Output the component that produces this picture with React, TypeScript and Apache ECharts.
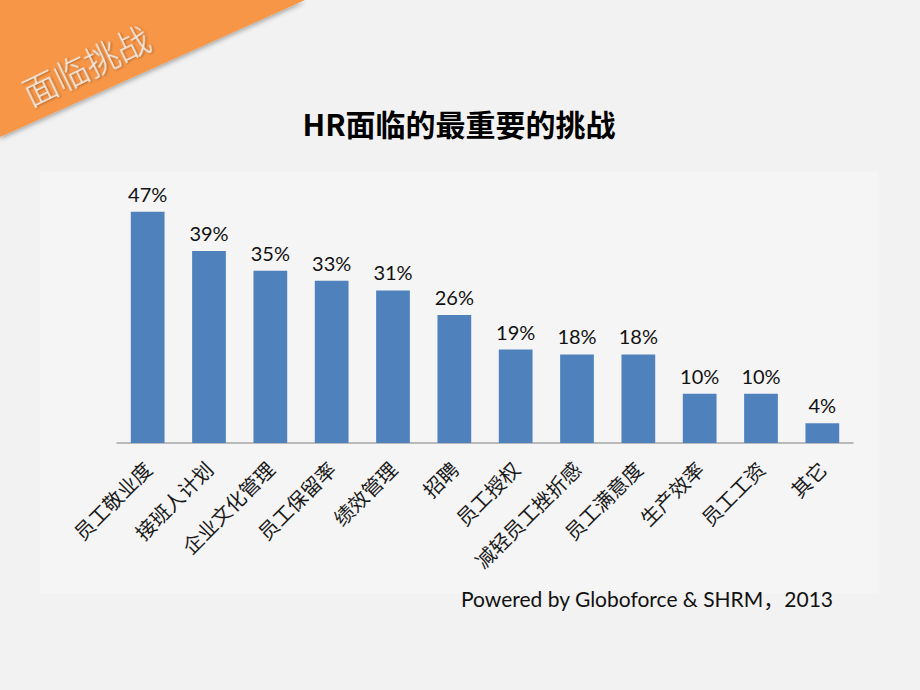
import React, { useEffect, useRef } from "react";
import * as echarts from "echarts";

const categories = [
  "员工敬业度",
  "接班人计划",
  "企业文化管理",
  "员工保留率",
  "绩效管理",
  "招聘",
  "员工授权",
  "减轻员工挫折感",
  "员工满意度",
  "生产效率",
  "员工工资",
  "其它",
];
const values = [47, 39, 35, 33, 31, 26, 19, 18, 18, 10, 10, 4];
const titleText = "HR面临的最重要的挑战";
const bannerText = "面临挑战";
const sourceText = "Powered by Globoforce & SHRM，2013";

const LATIN = 'Lato, "Noto Sans CJK SC", sans-serif';
const CJK = '"Noto Sans CJK SC", "Noto Sans", sans-serif';

export default function App() {
  const ref = useRef<HTMLDivElement>(null);
  useEffect(() => {
    document.body.style.margin = "0";
    const chart = echarts.init(ref.current!, undefined, { renderer: "svg" });
    chart.setOption({
      animation: false,
      backgroundColor: "#f2f2f2",
      graphic: [
        {
          type: "rect",
          z: -10,
          shape: { x: 40, y: 172, width: 838, height: 421 },
          style: { fill: "#f5f5f5" },
        },
        {
          type: "polygon",
          z: 10,
          shape: { points: [[0, 0], [305, 0], [0, 137]] },
          style: {
            fill: "#f79646",
            shadowBlur: 5,
            shadowColor: "rgba(0,0,0,0.35)",
            shadowOffsetY: 2,
          },
        },
        {
          type: "text",
          z: 11,
          x: 86,
          y: 65,
          rotation: 0.45,
          style: {
            text: bannerText,
            fill: "#f3ece4",
            font: `300 34px ${CJK}`,
            align: "center",
            verticalAlign: "middle",
            textShadowColor: "rgba(90,50,20,0.55)",
            textShadowBlur: 2,
            textShadowOffsetX: 1,
            textShadowOffsetY: 1,
          },
        },
        {
          type: "text",
          z: 11,
          x: 459,
          y: 123,
          style: {
            text: titleText,
            fill: "#000000",
            font: `bold 30px ${CJK}`,
            align: "center",
            verticalAlign: "middle",
          },
        },
        {
          type: "text",
          z: 11,
          x: 833,
          y: 598,
          style: {
            text: sourceText,
            fill: "#111111",
            font: `normal 21px ${LATIN}`,
            align: "right",
            verticalAlign: "middle",
          },
        },
      ],
      grid: { left: 117, right: 67, top: 197, bottom: 247, containLabel: false },
      xAxis: {
        type: "category",
        data: categories,
        axisLine: { show: true, lineStyle: { color: "#a6a6a6", width: 1.5 } },
        axisTick: { show: false },
        axisLabel: {
          interval: 0,
          rotate: 45,
          margin: 22,
          fontSize: 20,
          color: "#1a1a1a",
          fontFamily: CJK,
        },
      },
      yAxis: {
        type: "value",
        min: 0,
        max: 50,
        show: false,
        splitLine: { show: false },
      },
      series: [
        {
          type: "bar",
          data: values,
          barWidth: "55%",
          itemStyle: { color: "#4f81bd" },
          label: {
            show: true,
            position: "top",
            distance: 8,
            formatter: "{c}%",
            fontSize: 20,
            color: "#111111",
            fontFamily: LATIN,
          },
        },
      ],
    });
    return () => chart.dispose();
  }, []);
  return <div ref={ref} style={{ width: 920, height: 690 }} />;
}
